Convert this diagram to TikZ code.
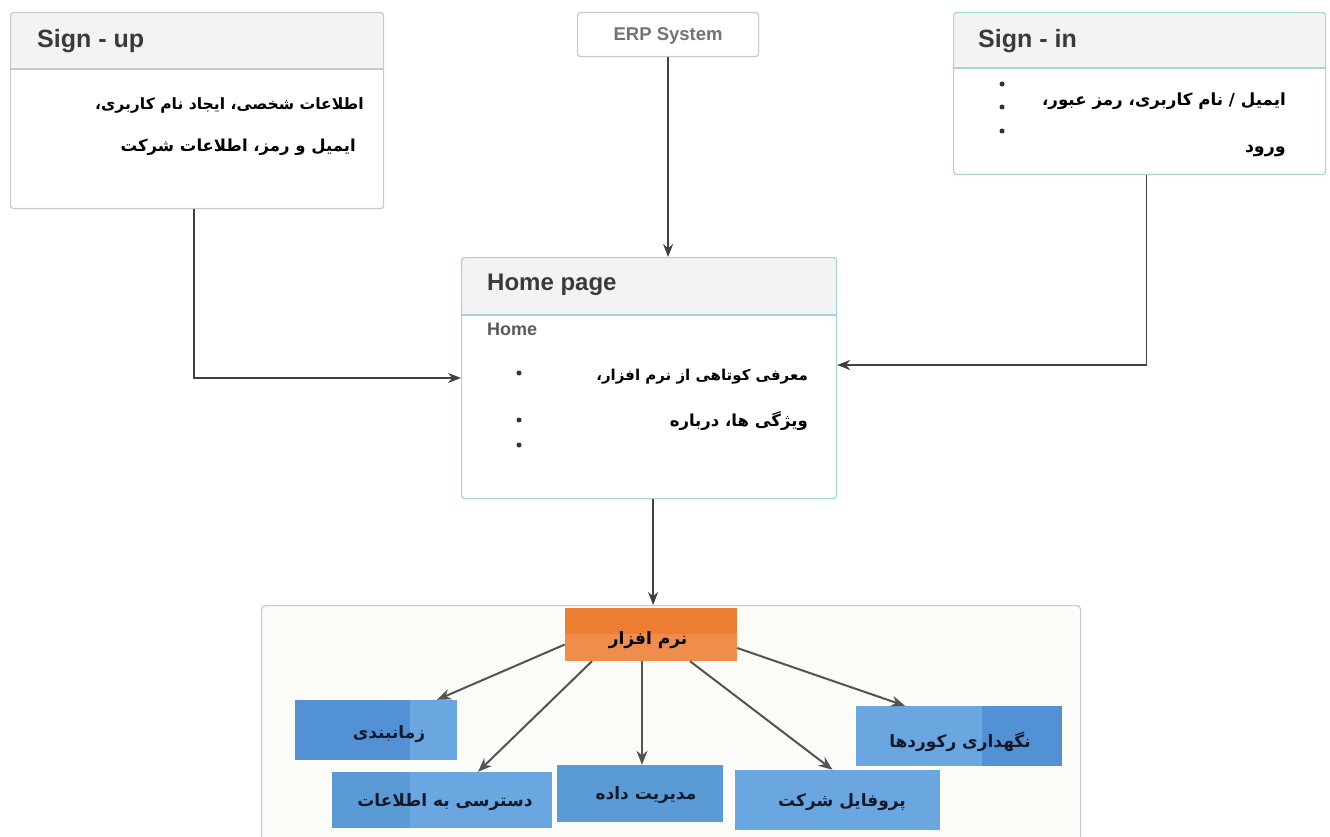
\documentclass[tikz,border=0pt]{standalone}
\usepackage{fontspec}
\setmainfont{Liberation Sans}
\newfontfamily\fa[Script=Arabic]{DejaVu Sans}
\TeXXeTstate=1
\usetikzlibrary{arrows.meta}
\definecolor{grayborder}{HTML}{C8C8C8}
\definecolor{tealA}{HTML}{A8D8CC}
\definecolor{tealB}{HTML}{A0D4D6}
\definecolor{headfill}{HTML}{F3F3F3}
\definecolor{orangeA}{HTML}{ED7D31}
\definecolor{orangeB}{HTML}{F08C4C}
\definecolor{blueA}{HTML}{5B9BD5}
\definecolor{blueD}{HTML}{5291D4}
\definecolor{blueL}{HTML}{6AA6DF}
\definecolor{contfill}{HTML}{FBFBF8}
\definecolor{arrowc}{HTML}{404040}
\definecolor{titlec}{HTML}{3A3A3A}
\definecolor{boxtext}{HTML}{141A2A}
\newcommand\rtltext[1]{{\fa\bfseries\beginR #1\endR}}
\begin{document}
\begin{tikzpicture}[x=1pt,y=-1pt,
  card/.style={draw=#1, rounded corners=3pt, line width=1.2pt, fill=white, anchor=north west, inner sep=0pt},
  hdr/.style 2 args={path picture={
     \fill[headfill] (path picture bounding box.north west) rectangle ([yshift=-#1]path picture bounding box.north east);
     \draw[line width=2pt, #2] ([yshift=-#1]path picture bounding box.north west) -- ([yshift=-#1]path picture bounding box.north east);}},
  ttl/.style={anchor=west, font=\bfseries\fontsize{25}{28}\selectfont, text=titlec, inner sep=0pt},
  fatxt/.style={anchor=east, font=\fontsize{16}{19}\selectfont, inner sep=0pt},
  dot/.style={circle, fill=black!80, inner sep=0pt, minimum size=5pt},
  arr/.style={draw=arrowc, line width=1.6pt, -{Stealth[length=13pt,width=10pt]}},
  arrb/.style={draw=arrowc!90, line width=2pt, -{Stealth[length=14pt,width=11pt]}},
  bluebox/.style={fill=#1, inner sep=0pt},
  bluebox/.default=blueA,
  bluetxt/.style={font=\fontsize{17}{20}\selectfont, text=boxtext, inner sep=0pt},
]
\clip (0,0) rectangle (1330,837);
\useasboundingbox (0,0) rectangle (1330,837);
\fill[white] (0,0) rectangle (1330,837);

% Sign-up
\node[card=grayborder, hdr={56pt}{grayborder}, minimum width=373pt, minimum height=196pt] (signup) at (10,12) {};
\node[ttl] (signupt) at (37,41) {Sign - up};
\node[fatxt, font=\fontsize{15.6}{19}\selectfont] (su1) at (364,105) {\rtltext{اطلاعات شخصی، ایجاد نام کاربری،}};
\node[fatxt, font=\fontsize{16.5}{20}\selectfont] (su2) at (356,147) {\rtltext{ایمیل و رمز، اطلاعات شرکت}};

% ERP
\node[card=grayborder, minimum width=181pt, minimum height=44pt] (erp) at (577,12) {};
\node[font=\bfseries\fontsize{18.5}{21}\selectfont, text=black!55, inner sep=0pt] (erpt) at ([yshift=-1pt]erp.center) {ERP System};

% Sign-in
\node[card=tealA, hdr={55pt}{tealA}, minimum width=372pt, minimum height=162pt] (signin) at (953,12) {};
\node[ttl] (signint) at (978,41) {Sign - in};
\node[dot] (sd1) at (1002,84) {};
\node[dot] (sd2) at (1002,107) {};
\node[dot] (sd3) at (1002,131) {};
\node[fatxt, font=\fontsize{16.7}{20}\selectfont] (si1) at (1286,101) {\rtltext{ایمیل / نام کاربری، رمز عبور،}};
\node[fatxt, font=\fontsize{17.5}{20}\selectfont] (si2) at (1286,151) {\rtltext{ورود}};

% Home page
\node[card=tealB, hdr={57pt}{tealB}, minimum width=375pt, minimum height=241pt] (home) at (461,257) {};
\node[ttl, font=\bfseries\fontsize{24}{27}\selectfont] (homet) at (487,285) {Home page};
\node[anchor=west, inner sep=0pt, font=\bfseries\fontsize{18}{20}\selectfont, text=black!65] (homesub) at (487,329) {Home};
\node[dot] (hd1) at (519,373) {};
\node[dot] (hd2) at (519,420) {};
\node[dot] (hd3) at (519,445) {};
\node[fatxt, font=\fontsize{15}{18}\selectfont] (h1) at (808,377) {\rtltext{معرفی کوتاهی از نرم افزار،}};
\node[fatxt, font=\fontsize{16.5}{19}\selectfont] (h2) at (808,421) {\rtltext{ویژگی ها، درباره}};

% Bottom container
\node[draw=grayborder, fill=contfill, rounded corners=4pt, line width=1.2pt, anchor=north west, inner sep=0pt, minimum width=819pt, minimum height=250pt] (cont) at (261,605) {};

% Software (orange)
\fill[orangeA] (565,608) rectangle (737,634);
\fill[orangeB] (565,634) rectangle (737,661);
\node[inner sep=0pt, minimum width=172pt, minimum height=53pt] (sw) at (651,634.5) {};
\node[bluetxt, text=black] (swt) at (648,640) {\rtltext{نرم افزار}};

% Blue boxes
\node[bluebox=blueL, minimum width=162pt, minimum height=60pt] (sched) at (376,730) {};
\fill[blueD] (sched.north west) rectangle (410,760);
\node[bluebox=blueL, minimum width=220pt, minimum height=56pt] (access) at (442,800) {};
\fill[blueA] (access.north west) rectangle (410,828);
\node[bluebox=blueA, minimum width=166pt, minimum height=57pt] (data) at (640,793.5) {};
\node[bluebox=blueL, minimum width=205pt, minimum height=60pt] (profile) at (837.5,800) {};
\node[bluebox=blueL, minimum width=206pt, minimum height=60pt] (records) at (959,736) {};
\fill[blueD] (982,706) rectangle (records.south east);

\node[bluetxt] (schedt) at (389,734) {\rtltext{زمانبندی}};
\node[bluetxt] (accesst) at (445,802) {\rtltext{دسترسی به اطلاعات}};
\node[bluetxt] (datat) at (646,795) {\rtltext{مدیریت داده}};
\node[bluetxt] (profilet) at (842,802) {\rtltext{پروفایل شرکت}};
\node[bluetxt] (recordst) at (960,742) {\rtltext{نگهداری رکوردها}};

% Connectors
\draw[arr] (erp.south) -- (erp.south |- home.north);
\draw[arr] ([xshift=-3pt]signup.south) |- ([yshift=-121pt]home.north west);
\draw[arr] ([xshift=7pt]signin.south) |- ([yshift=-108pt]home.north east);
\draw[arr] ([xshift=4pt]home.south) -- ([xshift=4pt]home.south |- cont.north);
\draw[arrb] ([yshift=-10pt]sw.west) -- ([xshift=61pt]sched.north);
\draw[arrb] ([xshift=-59pt]sw.south) -- ([xshift=36pt]access.north);
\draw[arrb] ([xshift=-9pt]sw.south) -- ([xshift=-9pt]sw.south |- data.north);
\draw[arrb] ([xshift=39pt]sw.south) -- ([xshift=-5pt]profile.north);
\draw[arrb] ([yshift=-13.5pt]sw.east) -- ([xshift=-54pt]records.north);
\end{tikzpicture}
\end{document}
